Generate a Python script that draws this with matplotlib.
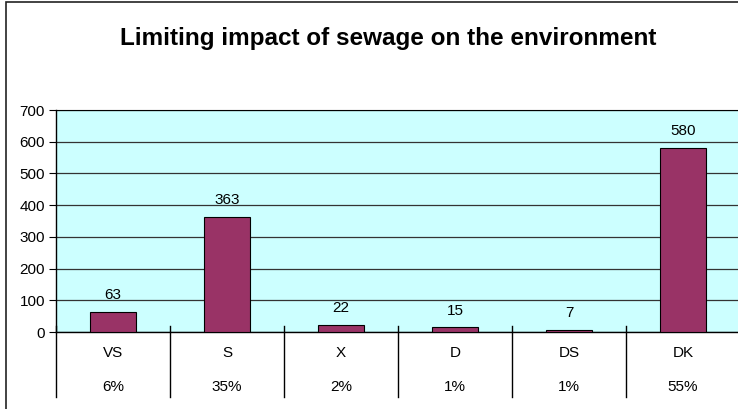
import matplotlib.pyplot as plt
from matplotlib.patches import Rectangle

plt.rcParams['font.family'] = ['Liberation Sans', 'DejaVu Sans']

titulo = "Limiting impact of sewage on the environment"
categorias = ["VS", "S", "X", "D", "DS", "DK"]
valores = [63, 363, 22, 15, 7, 580]
porcentajes = ["6%", "35%", "2%", "1%", "1%", "55%"]
yticks = [0, 100, 200, 300, 400, 500, 600, 700]

fig = plt.figure(figsize=(7.38, 4.09), dpi=100)
# marco exterior del grafico
fig.patches.append(Rectangle((6/738, -0.01), 1.0, 1 - 2/409 + 0.01, transform=fig.transFigure,
                             fill=False, edgecolor="#222222", linewidth=1.2))

ax = fig.add_axes([56/738, 1 - 332/409, 684/738, 222/409])
ax.set_facecolor("#CCFFFF")

x = list(range(len(categorias)))
barras = ax.bar(x, valores, width=0.41, color="#993366", edgecolor="black", linewidth=0.8, zorder=3)
for xi, v in zip(x, valores):
    ax.annotate(str(v), (xi, v), xytext=(0, 7), textcoords="offset points",
                ha="center", va="bottom", fontsize=11, zorder=4)

ax.set_xlim(-0.5, 5.5)
ax.set_ylim(0, 700)
ax.set_yticks(yticks)
ax.tick_params(axis="y", length=5, labelsize=11, direction="out", pad=3)
ax.set_xticks([])
ax.yaxis.grid(True, color="#333333", linewidth=0.9, zorder=1)
ax.set_axisbelow(True)
ax.spines["right"].set_visible(False)
ax.spines["left"].set_linewidth(1.0)
ax.spines["bottom"].set_linewidth(1.0)

# tabla de categorias bajo el eje
trans = ax.get_xaxis_transform()
for b in range(len(categorias) + 1):
    ax.plot([b - 0.5, b - 0.5], [0.027, -0.293], transform=trans, color="black",
            linewidth=1.0, clip_on=False, zorder=5)
for xi, c, p in zip(x, categorias, porcentajes):
    ax.text(xi, -0.095, c, transform=trans, ha="center", va="center", fontsize=11)
    ax.text(xi, -0.248, p, transform=trans, ha="center", va="center", fontsize=11)

fig.text(388/738, 1 - 38/409, titulo, ha="center", va="center", fontsize=17.5, fontweight="bold")

fig.savefig("out.png", dpi=100)
